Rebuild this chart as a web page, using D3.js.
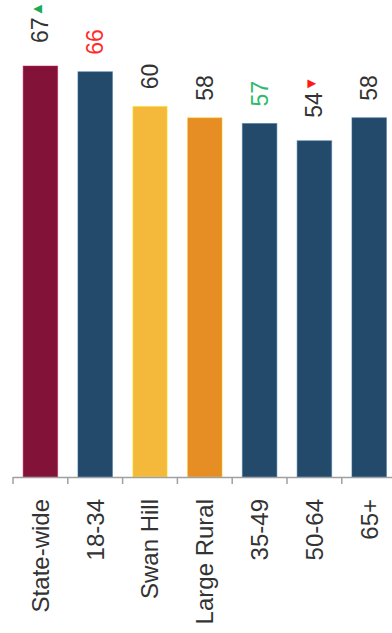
<!DOCTYPE html>
<html>
<head>
<meta charset="utf-8">
<script src="https://cdn.jsdelivr.net/npm/d3@7"></script>
<style>
  html, body { margin: 0; padding: 0; background: #fff; }
  svg { display: block; font-family: Arial, "Liberation Sans", sans-serif; }
</style>
</head>
<body>
<svg id="chart" width="392" height="633"></svg>
<script>
// ---- data ----
const categories = ["State-wide", "18-34", "Swan Hill", "Large Rural", "35-49", "50-64", "65+"];
const values = [67, 66, 60, 58, 57, 54, 58];
const barColors = ["#831239", "#234a6a", "#f4b93a", "#e68d23", "#234a6a", "#234a6a", "#234a6a"];
const labelColors = ["#333333", "#ff2a2a", "#333333", "#333333", "#2dbb6a", "#333333", "#333333"];
const markers = ["up", "", "", "", "", "down", ""];

// ---- layout ----
const W = 392, H = 633;
const baseY = 477;
const svg = d3.select("#chart");

const x = d3.scaleBand()
  .domain(categories)
  .range([13, 396.6])
  .paddingInner(0.37)
  .paddingOuter(0.185);

const y = d3.scaleLinear()
  .domain([-4.5, 67])
  .range([baseY, 66]);

const data = categories.map((c, i) => ({
  cat: c, value: values[i], color: barColors[i], lc: labelColors[i], mark: markers[i]
}));

// bars
svg.append("g").selectAll("rect")
  .data(data)
  .join("rect")
  .attr("x", d => x(d.cat))
  .attr("y", d => y(d.value))
  .attr("width", x.bandwidth())
  .attr("height", d => baseY - y(d.value))
  .attr("fill", d => d.color)
  .attr("stroke", d => d3.color(d.color).brighter(1.2))
  .attr("stroke-opacity", 0.5)
  .attr("stroke-width", 1);

// axis line & ticks at band boundaries
const step = x.step();
const off = step * x.paddingInner() / 2;
const axis = svg.append("g").attr("stroke", "#a0a0a0").attr("stroke-width", 1.5);
axis.append("line")
  .attr("x1", x(categories[0]) - off).attr("x2", W)
  .attr("y1", baseY + 0.5).attr("y2", baseY + 0.5);
axis.selectAll("line.tick")
  .data(categories)
  .join("line")
  .attr("class", "tick")
  .attr("x1", d => x(d) - off).attr("x2", d => x(d) - off)
  .attr("y1", baseY).attr("y2", baseY + 7);

// category labels (rotated)
svg.append("g").selectAll("text")
  .data(data)
  .join("text")
  .attr("transform", d => `translate(${x(d.cat) + x.bandwidth() / 2},499) rotate(-90)`)
  .attr("text-anchor", "end")
  .attr("dy", "0.35em")
  .attr("font-size", 24)
  .attr("fill", "#333")
  .text(d => d.cat);

// value labels (rotated)
const vl = svg.append("g").selectAll("text")
  .data(data)
  .join("text")
  .attr("transform", d => `translate(${x(d.cat) + x.bandwidth() / 2},${y(d.value) - (d.mark ? 23 : 17)}) rotate(-90)`)
  .attr("text-anchor", "start")
  .attr("dy", "0.35em")
  .attr("font-size", 23)
  .attr("fill", d => d.lc);
vl.append("tspan").text(d => d.value);
vl.filter(d => d.mark)
  .append("tspan")
  .attr("font-size", 15)
  .attr("dy", "-0.45em")
  .attr("dx", "1")
  .attr("fill", d => d.mark === "up" ? "#1aab54" : "#ff1a1a")
  .text(d => d.mark === "up" ? "▲" : "▼");
</script>
</body>
</html>
